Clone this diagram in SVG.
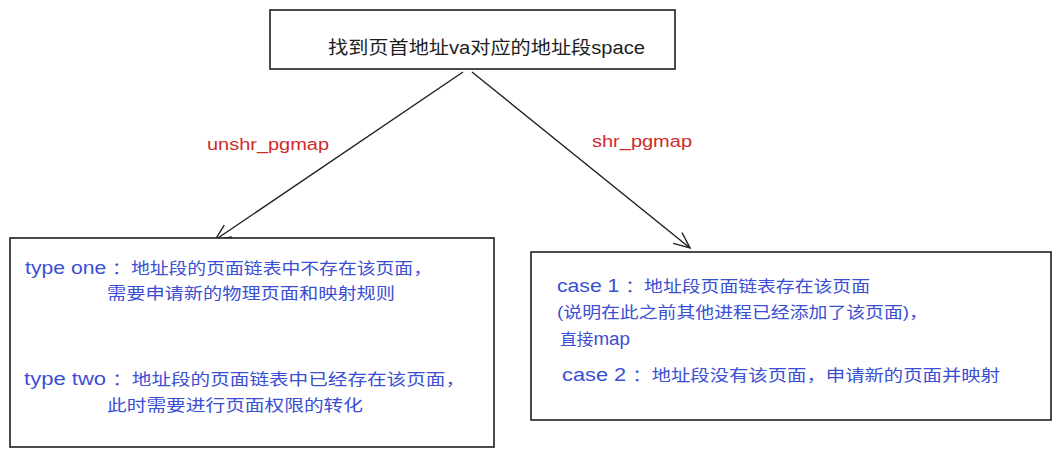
<svg xmlns="http://www.w3.org/2000/svg" width="1060" height="457" viewBox="0 0 1060 457">
<style>
.box{fill:#ffffff;stroke:#1e1e1e;stroke-width:1.6}
.t{font-family:"Liberation Sans","Noto Sans CJK SC",sans-serif;fill:#3b4fd4;font-size:16px}
.en{font-size:18px}
.top{font-family:"Liberation Sans","Noto Sans CJK SC",sans-serif;fill:#1e1e1e;font-size:18px}
.lbl{font-family:"Liberation Sans","Noto Sans CJK SC",sans-serif;fill:#d02b2b;font-size:16px}
.edge{fill:none;stroke:#1e1e1e;stroke-width:1.4}
</style>
<defs>
<marker id="arr" viewBox="0 0 20 20" refX="18" refY="10" markerWidth="20" markerHeight="20" markerUnits="userSpaceOnUse" orient="auto">
<path d="M2,3 L18,10 L2,17" fill="none" stroke="#1e1e1e" stroke-width="1.4"/>
</marker>
</defs>
<rect width="1060" height="457" fill="#ffffff"/>
<g id="connectors">
<line class="edge" x1="463" y1="72" x2="215" y2="240" marker-end="url(#arr)"/>
<line class="edge" x1="472" y1="72" x2="690" y2="248" marker-end="url(#arr)"/>
<text class="lbl" x="207" y="150" textLength="122" lengthAdjust="spacingAndGlyphs">unshr_pgmap</text>
<text class="lbl" x="592" y="147" textLength="100" lengthAdjust="spacingAndGlyphs">shr_pgmap</text>
</g>
<g id="node-top">
<rect class="box" x="270" y="10" width="405" height="59"/>
<text class="top" x="328" y="54" textLength="317" lengthAdjust="spacingAndGlyphs">找到页首地址va对应的地址段space</text>
</g>
<g id="node-left">
<rect class="box" x="10" y="238" width="484" height="209"/>
<text class="t" x="25" y="274" textLength="407" lengthAdjust="spacingAndGlyphs"><tspan class="en">type one </tspan>：地址段的页面链表中不存在该页面，</text>
<text class="t" x="107" y="299" textLength="288" lengthAdjust="spacingAndGlyphs">需要申请新的物理页面和映射规则</text>
<text class="t" x="24" y="385" textLength="441" lengthAdjust="spacingAndGlyphs"><tspan class="en">type two </tspan>：地址段的页面链表中已经存在该页面，</text>
<text class="t" x="107" y="411" textLength="256" lengthAdjust="spacingAndGlyphs">此时需要进行页面权限的转化</text>
</g>
<g id="node-right">
<rect class="box" x="531" y="252" width="520" height="168"/>
<text class="t" x="557" y="292" textLength="313" lengthAdjust="spacingAndGlyphs"><tspan class="en">case 1 </tspan>：地址段页面链表存在该页面</text>
<text class="t" x="557" y="318" textLength="371" lengthAdjust="spacingAndGlyphs">(说明在此之前其他进程已经添加了该页面)，</text>
<text class="t" x="560" y="345" textLength="70" lengthAdjust="spacingAndGlyphs">直接<tspan class="en">map</tspan></text>
<text class="t" x="562" y="381" textLength="438" lengthAdjust="spacingAndGlyphs"><tspan class="en">case 2 </tspan>：地址段没有该页面，申请新的页面并映射</text>
</g>
</svg>
